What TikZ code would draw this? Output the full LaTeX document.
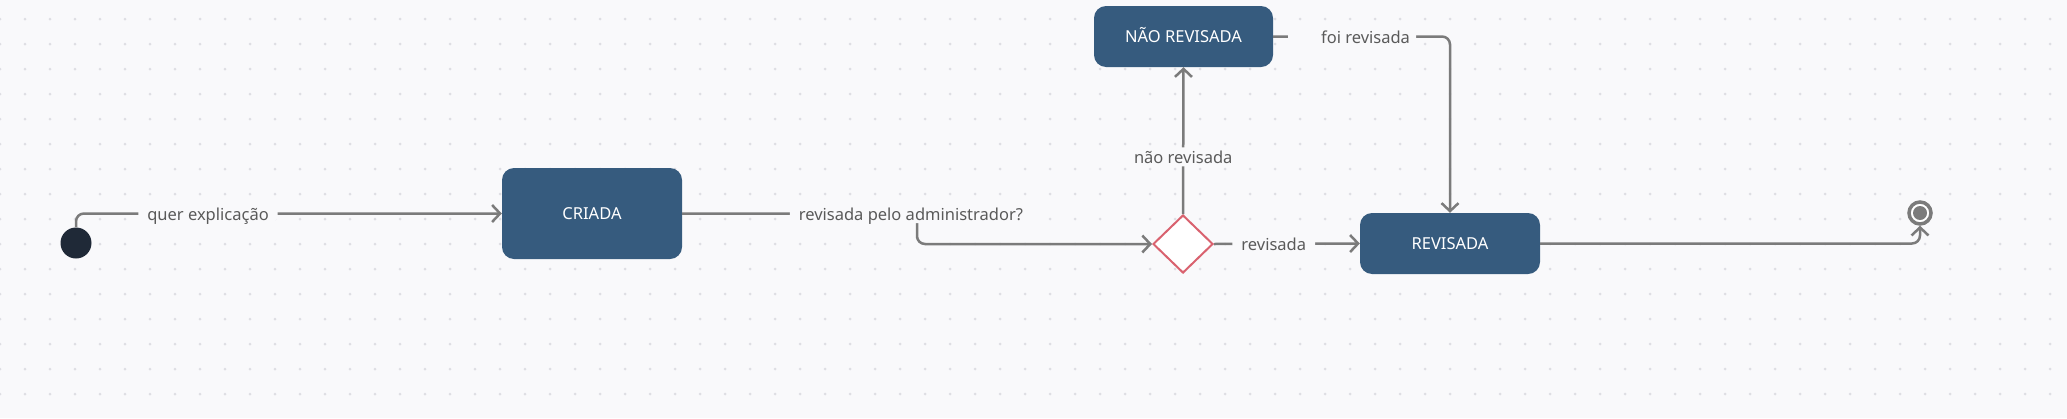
\documentclass[tikz,border=0pt]{standalone}
\usepackage{fontspec}
\setmainfont{Noto Sans}
\usepackage{tikz}
\usetikzlibrary{arrows.meta}
\usetikzlibrary{shapes.geometric}
\usetikzlibrary{positioning}

\definecolor{fundo}{HTML}{F9F9FB}
\definecolor{ponto}{HTML}{DEDEE3}
\definecolor{estadoazul}{HTML}{365B7E}
\definecolor{inicioazul}{HTML}{1F2937}
\definecolor{linha}{HTML}{7B7B7B}
\definecolor{rotulo}{HTML}{5A5A5A}
\definecolor{vermelho}{HTML}{D9626F}

\begin{document}
\begin{tikzpicture}[x = 1pt, y = -1pt,
	estado/.style = {rectangle, rounded corners = 12pt, fill = estadoazul, text = white,
		font = \fontsize{16.5}{20}\selectfont, text height = 11.8pt, text depth = 0pt},
	inicio/.style = {circle, fill = inicioazul, minimum size = 31pt, inner sep = 0pt},
	fim/.style = {circle, draw = linha, line width = 3.5pt, fill = white, minimum size = 22pt,
		inner sep = 0pt, path picture = {\fill[linha] (path picture bounding box.center) circle (7pt);}},
	decisao/.style = {diamond, draw = vermelho, line width = 2pt, fill = white,
		minimum width = 60pt, minimum height = 58pt, inner sep = 0pt},
	trans/.style = {draw = linha, line width = 2.5pt, rounded corners = 8pt,
		-{Straight Barb[length = 8pt, width = 17pt]}},
	rot/.style = {fill = fundo, text = rotulo, font = \fontsize{16.5}{20}\selectfont,
		text height = 13pt, text depth = 0pt, inner xsep = 9pt, inner ysep = 3pt}]
	%\draw[help lines] (0,0) grid (2067,418);
	\useasboundingbox (0, 0) rectangle (2067, 418);
	\fill[fundo] (0, 0) rectangle (2067, 418);
	\foreach \i in {0,...,82}
		\foreach \j in {0,...,15}
			\fill[ponto] (25*\i, 19 + 25*\j) circle (1.5pt);
	
	\node[inicio] (ini) at (76, 243) {};
	\node[estado, minimum width = 180pt, minimum height = 91pt] (criada) at (592, 213.5) {CRIADA};
	\node[decisao] (dec) at (1183, 244) {};
	\node[estado, minimum width = 179pt, minimum height = 61pt] (naorev) at (1183.5, 36.5) {NÃO REVISADA};
	\node[estado, minimum width = 180pt, minimum height = 61pt] (rev) at (1450, 243.5) {REVISADA};
	\node[fim] (final) at (1920, 213) {};
	\coordinate (dobra) at (917, 230);
	
	\draw[trans] (ini.north) |- node[rot, pos = 0.655] {quer explicação} (criada.west);
	\draw[trans] (criada.east) -| node[rot, pos = 0.487] {revisada pelo administrador?} (dobra) |- (dec.west);
	\draw[trans] (dec.north) -- node[rot, pos = 0.39] {não revisada} (naorev.south);
	\draw[trans] (dec.east) -- node[rot, pos = 0.41] {revisada} (rev.west);
	\draw[trans] (naorev.east) -| node[rot, pos = 0.223, inner xsep = 0pt] {\hspace*{33pt}foi revisada\hspace*{6pt}} (rev.north);
	\draw[trans] (rev.east) -| (final.south);
\end{tikzpicture}
\end{document}
